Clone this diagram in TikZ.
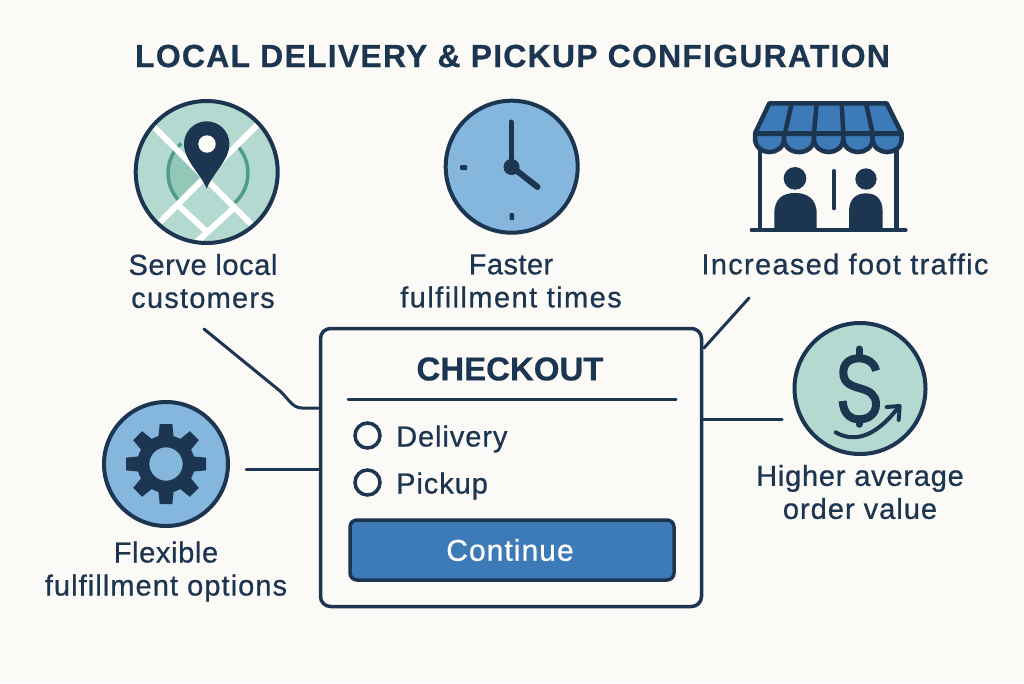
\documentclass[tikz,border=0pt]{standalone}
\usepackage{fontspec}
\setmainfont{Liberation Sans}
\usetikzlibrary{calc}
\definecolor{navy}{HTML}{1C3550}
\definecolor{paper}{HTML}{FCFAF7}
\definecolor{mint}{HTML}{B3D9D0}
\definecolor{sky}{HTML}{85B6DE}
\definecolor{royal}{HTML}{3D7AB8}
\definecolor{ring}{HTML}{4F9C8A}
\definecolor{wedge}{HTML}{93C8B8}
\newfontfamily\medfont[FakeBold=0.7,LetterSpace=1.5]{Liberation Sans}
\newfontfamily\titlefont[LetterSpace=3.75,FakeBold=0.5]{Liberation Sans Bold}
\newfontfamily\headfont[FakeBold=0.5]{Liberation Sans Bold}
\newcommand\ls[1]{\addfontfeature{LetterSpace=#1}}
\tikzset{
 label/.style={text=navy,align=center,inner sep=0pt,font=\medfont\fontsize{29}{33}\selectfont},
 opt/.style={text=navy,anchor=west,inner sep=0pt,font=\medfont\fontsize{29}{33}\selectfont\ls{3.2}},
 link/.style={draw=navy,line width=3pt,line cap=round},
 icon/.style={draw=navy,line width=4pt},
 radio/.style={circle,draw=navy,line width=3.5pt,minimum size=25pt,inner sep=0pt},
 zoomed/.style={x=0.3333pt,y=-0.3333pt}
}
\begin{document}
\begin{tikzpicture}[x=1pt,y=-1pt]
\useasboundingbox (0,0) rectangle (1024,683);
\fill[paper] (0,0) rectangle (1024,683);
\node[text=navy,inner sep=0pt,font=\titlefont\fontsize{32}{36}\selectfont] (title) at (512.5,56) {LOCAL DELIVERY \& PICKUP CONFIGURATION};

% map icon
\fill[mint] (206.7,172) circle (71);
\begin{scope}
\clip (206.7,172) circle (71);
\fill[wedge] (208,178) -- (178,147) arc (-139:-221:40) -- cycle;
\draw[ring,line width=3.5pt] (208,173) ++(-132:40) arc (-132:-228:40);
\draw[ring,line width=3.5pt] (208,173) ++(-48:40) arc (-48:48:40);
\draw[white,line width=6pt] (150,123) -- (262,235);
\draw[white,line width=6pt] (262,120) -- (155,227);
\draw[white,line width=6pt] (178,205) -- (207,232);
\draw[white,line width=6pt] (235,207) -- (190,248);
\end{scope}
\draw[icon] (206.7,172) circle (71);
\fill[navy] (206.7,188.5) .. controls (200,173) and (184,160) .. (184,144) arc (180:360:22.7) .. controls (229.4,160) and (213,173) .. (206.7,188.5) -- cycle;
\fill[white] (207,144) circle (8.7);

% clock icon
\fill[sky] (511.7,166.7) circle (66);
\draw[icon] (511.7,166.7) circle (66);
\draw[navy,line width=5pt,line cap=round] (511,122) -- (511,166);
\draw[navy,line width=6pt,line cap=round] (512,167) -- (537.5,187);
\fill[navy] (511.5,167) circle (8);
\fill[navy,rounded corners=1pt] (460,165) rectangle (467,170);
\fill[navy,rounded corners=1pt] (509.5,213) rectangle (514,220);

% store icon
\begin{scope}[shift={(740,90)},zoomed]
\fill[paper] (60,190) rectangle (470,410);
\draw[navy,line width=4.5pt] (60,175) -- (60,420) (470,175) -- (470,420);
\fill[navy] (165,265) circle (34);
\fill[navy] (103,420) -- (103,370) .. controls (103,325) and (130,309) .. (165,309) .. controls (200,309) and (230,325) .. (230,370) -- (230,420) -- cycle;
\fill[navy] (378,267) circle (32);
\fill[navy] (327,420) -- (327,365) .. controls (327,325) and (350,310) .. (378,310) .. controls (406,310) and (428,325) .. (428,365) -- (428,420) -- cycle;
\draw[navy,line width=4pt,line cap=round] (282,243) -- (282,355);
\draw[navy,line width=4pt,line cap=round] (35,421) -- (497,421);
\draw[navy,line width=4.5pt,fill=royal,line join=round] (88,40) -- (440,40) -- (485,130) -- (45,130) -- cycle;
\draw[navy,line width=4.5pt,line cap=round] (155,40) -- (135,130) (230,40) -- (222,130) (305,40) -- (310,130) (378,40) -- (398,130);
\foreach \a/\b in {45/132,132/222,222/310,310/398,398/485}{
  \draw[navy,line width=4.5pt,fill=royal,line join=round] (\a,132) -- (\a,145) .. controls (\a,200) and (\b,200) .. (\b,145) -- (\b,132) -- cycle;
}
\end{scope}

% gear icon
\fill[sky] (166,464) circle (62);
\draw[icon] (166,464) circle (62);
\fill[navy,even odd rule]
  (166,464) ++(-15:29)
  \foreach \t in {0,45,...,315}{
    -- ($(166,464)+(\t-15:29)$) -- ($(166,464)+(\t-9:40.5)$) -- ($(166,464)+(\t+9:40.5)$) -- ($(166,464)+(\t+15:29)$)
  } -- cycle
  (166,464) circle (16.7);

% dollar icon
\fill[mint] (860,388.5) circle (65.5);
\draw[icon] (860,388.5) circle (65.5);
\begin{scope}[shift={(785,325)},zoomed]
\draw[navy,line width=7pt,line cap=round] (222,72) -- (222,92) (222,282) -- (222,298);
\draw[navy,line width=8pt,line cap=butt] (273,137) .. controls (268,112) and (245,100) .. (222,100) .. controls (190,100) and (175,118) .. (175,143) .. controls (175,175) and (200,183) .. (225,190) .. controls (255,198) and (273,210) .. (273,238) .. controls (273,268) and (250,283) .. (222,283) .. controls (195,283) and (175,265) .. (173,228);
\draw[navy,line width=4pt,line cap=round,line join=round] (152,322) .. controls (200,350) and (265,345) .. (340,247);
\draw[navy,line width=4pt,line cap=round,line join=round] (305,246) -- (344,243) -- (341,285);
\end{scope}

% labels
\node[label] (serve) at (203,281) {{\ls{2.1}Serve local}\\{\ls{4.2}customers}};
\node[label] (faster) at (511,281) {Faster\\{\ls{5}fulfillment times}};
\node[label] (foot) at (845,264) {\ls{4.5}Increased foot traffic};
\node[label] (flex) at (166,571.5) {{\ls{2.2}Flexible}\\{\ls{3.7}fulfillment options}};
\node[label] (aov) at (860,492) {{\ls{2.7}Higher average}\\{\ls{3.5}order value}};

% checkout card
\node[draw=navy,line width=3.5pt,fill=paper,rounded corners=10pt,minimum width=381pt,minimum height=278pt,inner sep=0pt] (card) at (511,467.5) {};
\node[text=navy,inner sep=0pt,font=\headfont\fontsize{33}{36}\selectfont] (checkout) at (510,369) {CHECKOUT};
\coordinate (ruleL) at (348,399.5);
\coordinate (ruleR) at (676,399.5);
\draw[link] (ruleL) -- (ruleR);
\node[radio] (r1) at (367.5,435.5) {};
\node[radio] (r2) at (367.5,482.5) {};
\node[opt] (delivery) at (396,439) {Delivery};
\node[opt] (pickup) at (396,486) {Pickup};
\node[draw=navy,line width=3.5pt,fill=royal,rounded corners=7pt,minimum width=324pt,minimum height=60pt,inner sep=0pt] (continue) at (512,550) {};
\node[inner sep=0pt,text=white,font=\medfont\fontsize{30}{33}\selectfont\ls{3.5}] (continuetext) at (510,550) {Continue};

% connectors
\coordinate (c1) at (204,329);
\coordinate (c1a) at (280,391);
\coordinate (c1b) at (302,408);
\coordinate (c2) at (246,469);
\coordinate (c3) at (749,298);
\coordinate (c3a) at (704,348);
\coordinate (c4) at (782,419);
\draw[link] (c1) -- (c1a) .. controls (288,398) and (292,408) .. (c1b) -- (card.west |- c1b);
\draw[link] (c2) -- (card.west |- c2);
\draw[link] (c3) -- (c3a);
\draw[link] (c4) -- (card.east |- c4);
\end{tikzpicture}
\end{document}
